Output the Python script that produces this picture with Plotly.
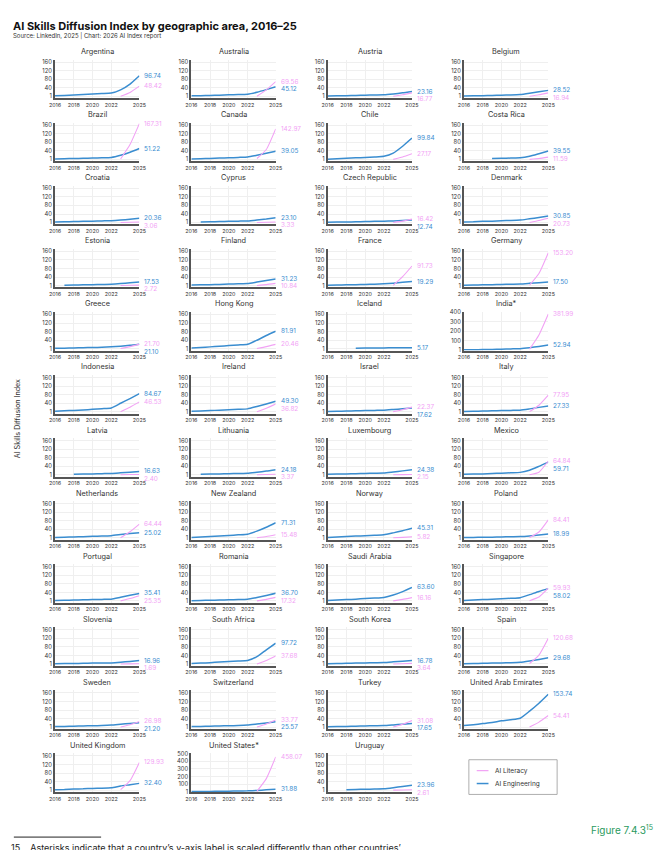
import plotly.graph_objects as go

# ---------------- data ----------------
years = [2016, 2017, 2018, 2019, 2020, 2021, 2022, 2023, 2024, 2025]
literacy_years = [2023, 2024, 2025]
x_tick_values = [2016, 2018, 2020, 2022, 2025]
x_tick_labels = ["2016", "2018", "2020", "2022", "2025"]
y_ticks_default = [1, 40, 80, 120, 160]
y_ticks_india = [1, 100, 200, 300, 400]
y_ticks_us = [1, 100, 200, 300, 400, 500]

countries = [
    "Argentina", "Australia", "Austria", "Belgium",
    "Brazil", "Canada", "Chile", "Costa Rica",
    "Croatia", "Cyprus", "Czech Republic", "Denmark",
    "Estonia", "Finland", "France", "Germany",
    "Greece", "Hong Kong", "Iceland", "India*",
    "Indonesia", "Ireland", "Israel", "Italy",
    "Latvia", "Lithuania", "Luxembourg", "Mexico",
    "Netherlands", "New Zealand", "Norway", "Poland",
    "Portugal", "Romania", "Saudi Arabia", "Singapore",
    "Slovenia", "South Africa", "South Korea", "Spain",
    "Sweden", "Switzerland", "Turkey", "United Arab Emirates",
    "United Kingdom", "United States*", "Uruguay",
]

N = None
ai_engineering = [
    [3, 5, 7, 9, 12, 14, 16, 31, 58, 96.74],        # Argentina
    [3, 4, 5, 6, 8, 9, 11, 20, 32, 45.12],          # Australia
    [2, 3, 4, 5, 6, 7, 8, 12, 17, 23.16],           # Austria
    [2, 3, 4, 5, 6, 7, 9, 15, 22, 28.52],           # Belgium
    [3, 4, 5, 6, 7, 8, 10, 20, 34, 51.22],          # Brazil
    [3, 4, 5, 7, 8, 10, 12, 20, 29, 39.05],         # Canada
    [2, 4, 6, 8, 10, 12, 15, 30, 62, 99.84],        # Chile
    [N, N, N, 5, 6, 7, 8, 15, 27, 39.55],           # Costa Rica
    [3, 4, 5, 6, 7, 8, 9, 12, 16, 20.36],           # Croatia
    [N, 3, 4, 5, 6, 7, 8, 12, 17, 23.10],           # Cyprus
    [2, 3, 3, 4, 5, 6, 7, 8, 10, 12.74],            # Czech Republic
    [3, 4, 6, 7, 9, 10, 12, 18, 24, 30.85],         # Denmark
    [N, 2, 3, 4, 5, 6, 7, 10, 14, 17.53],           # Estonia
    [3, 4, 5, 6, 8, 9, 10, 17, 24, 31.23],          # Finland
    [2, 3, 4, 5, 6, 7, 9, 12, 16, 19.29],           # France
    [2, 3, 4, 5, 6, 7, 8, 11, 14, 17.50],           # Germany
    [2, 3, 4, 5, 6, 7, 9, 12, 16, 21.10],           # Greece
    [4, 6, 9, 12, 15, 18, 21, 40, 62, 81.91],       # Hong Kong
    [N, N, N, 3, 3.5, 4, 4.3, 4.6, 4.9, 5.17],      # Iceland
    [2, 3, 5, 7, 9, 12, 15, 25, 38, 52.94],         # India
    [3, 5, 7, 9, 12, 15, 18, 40, 62, 84.67],        # Indonesia
    [3, 4, 6, 8, 10, 12, 14, 25, 37, 49.30],        # Ireland
    [2, 3, 4, 5, 6, 7, 8, 11, 14, 17.62],           # Israel
    [2, 3, 4, 5, 6, 7, 8, 14, 21, 27.33],           # Italy
    [N, N, 3, 4, 5, 6, 7, 10, 13, 16.63],           # Latvia
    [N, 3, 4, 5, 6, 7, 8, 13, 18, 24.18],           # Lithuania
    [3, 4, 5, 6, 7, 8, 9, 14, 19, 24.38],           # Luxembourg
    [3, 4, 5, 7, 8, 10, 12, 22, 40, 59.71],         # Mexico
    [3, 4, 5, 6, 8, 9, 11, 16, 21, 25.02],          # Netherlands
    [3, 5, 7, 10, 12, 15, 18, 32, 50, 71.31],       # New Zealand
    [3, 5, 7, 9, 11, 13, 15, 24, 34, 45.31],        # Norway
    [2, 3, 4, 4, 5, 6, 7, 10, 14, 18.99],           # Poland
    [3, 4, 5, 6, 7, 8, 9, 18, 27, 35.41],           # Portugal
    [2, 3, 4, 5, 6, 7, 9, 17, 26, 36.70],           # Romania
    [3, 5, 7, 9, 12, 14, 17, 28, 44, 63.60],        # Saudi Arabia
    [3, 5, 7, 9, 11, 13, 16, 30, 45, 58.02],        # Singapore
    [2, 3, 3, 4, 5, 5, 6, 9, 13, 16.96],            # Slovenia
    [3, 5, 7, 10, 13, 15, 17, 35, 67, 97.72],       # South Africa
    [2, 3, 4, 5, 6, 7, 8, 11, 14, 16.78],           # South Korea
    [2, 3, 4, 5, 6, 7, 9, 15, 22, 29.68],           # Spain
    [3, 4, 5, 6, 7, 8, 10, 14, 18, 21.20],          # Sweden
    [3, 4, 5, 6, 7, 8, 10, 15, 20, 25.57],          # Switzerland
    [2, 3, 4, 5, 6, 7, 8, 11, 14, 17.65],           # Turkey
    [8, 12, 17, 22, 30, 35, 42, 75, 112, 153.74],   # United Arab Emirates
    [3, 4, 6, 7, 9, 10, 12, 20, 26, 32.40],         # United Kingdom
    [2, 3, 4, 6, 7, 9, 11, 17, 24, 31.88],          # United States
    [N, N, 3, 4, 5, 6, 7, 12, 18, 23.96],           # Uruguay
]

ai_literacy = [
    [1, 19, 48.42], [1, 31, 69.56], [1, 8, 16.77], [1, 8, 16.94],
    [3, 70, 167.31], [5, 47, 142.97], [1, 12, 27.17], [1, 5, 11.59],
    [1, 2, 3.06], [1, 2, 3.33], [1, 7, 16.42], [1, 10, 20.73],
    [1, 2, 2.72], [1, 5, 10.84], [2, 42, 91.73], [3, 57, 153.20],
    [1, 10, 21.70], [1, 10, 20.46], None, [10, 160, 381.99],
    [1, 22, 46.53], [1, 17, 36.82], [1, 10, 22.37], [1, 31, 77.95],
    [1, 1.8, 2.40], [1, 2, 3.37], [1, 1.6, 2.15], [1, 13, 64.84],
    [1, 29, 64.44], [1, 7, 15.48], [1, 3, 5.82], [2, 28, 84.41],
    [1, 12, 25.35], [1, 8, 17.32], [1, 8, 16.16], [2, 19, 59.93],
    [1, 1.3, 1.69], [1, 17, 37.68], [1, 2, 3.64], [3, 42, 120.68],
    [1, 12, 26.98], [1, 15, 33.77], [1, 14, 31.08], [1, 24, 54.41],
    [3, 45, 129.93], [5, 172, 458.07], [1, 1.8, 2.61],
]

# ---------------- style / layout ----------------
W, H = 672, 850
BLUE = "#3a8dd0"
PINK = "#f2a2f5"
FONT = "Inter, Lato, sans-serif"
COL_LEFT = [50, 189, 328, 467]
PANEL_W = 86
PANEL_H = 39
ROW_PITCH = 63.6
MIN_LABEL_GAP = 7.5


def fx(px):
    return px / W


def fy(py):
    return 1 - py / H


fig = go.Figure()
annotations = []
layout_axes = {}

for i, name in enumerate(countries):
    r, c = divmod(i, 4)
    k = "" if i == 0 else str(i + 1)
    xa, ya = "x" + k, "y" + k
    left = COL_LEFT[c]
    top = 56 + ROW_PITCH * r
    bottom = top + PANEL_H

    if name == "India*":
        yrange, yticks = [-5, 405], y_ticks_india
    elif name == "United States*":
        yrange, yticks = [-5, 505], y_ticks_us
    else:
        yrange, yticks = [-8, 172], y_ticks_default

    fig.add_trace(go.Scatter(
        x=years, y=ai_engineering[i], mode="lines", xaxis=xa, yaxis=ya,
        line=dict(color=BLUE, width=1.5, shape="spline", smoothing=0.5),
        connectgaps=False, showlegend=False, hoverinfo="skip"))
    lit = ai_literacy[i]
    if lit is not None:
        fig.add_trace(go.Scatter(
            x=literacy_years, y=lit, mode="lines", xaxis=xa, yaxis=ya,
            line=dict(color=PINK, width=1.1, shape="spline", smoothing=0.5),
            showlegend=False, hoverinfo="skip"))

    axis_common = dict(
        showgrid=True, gridcolor="#efefef", gridwidth=0.6,
        showline=True, linecolor="#555", linewidth=2, ticks="",
        zeroline=False, fixedrange=True)
    layout_axes["xaxis" + k] = dict(
        domain=[fx(left), fx(left + PANEL_W)], anchor=ya, range=[2016, 2025],
        tickvals=x_tick_values, ticktext=x_tick_labels,
        tickfont=dict(size=5.4, color="#333", family=FONT), **axis_common)
    layout_axes["yaxis" + k] = dict(
        domain=[fy(bottom), fy(top)], anchor=xa, range=yrange,
        tickvals=yticks, ticktext=[str(t) for t in yticks],
        tickfont=dict(size=5.8, color="#333", family=FONT), **axis_common)

    # panel title
    annotations.append(dict(
        text=name, x=fx(left + PANEL_W / 2), y=fy(48 + ROW_PITCH * r),
        xref="paper", yref="paper", xanchor="center", yanchor="middle",
        showarrow=False, font=dict(size=7.3, color="#333", family=FONT)))

    # end labels (dodge the lower label downward when they collide)
    labels = [(ai_engineering[i][-1], BLUE)]
    if lit is not None:
        labels.append((lit[-1], PINK))
    labels.sort(key=lambda t: -t[0])
    ppu = PANEL_H / (yrange[1] - yrange[0])
    gap = (labels[0][0] - labels[-1][0]) * ppu if len(labels) == 2 else 99
    for j, (val, col) in enumerate(labels):
        shift = 0
        if j == 1 and gap < MIN_LABEL_GAP:
            shift = -(MIN_LABEL_GAP - gap)
        annotations.append(dict(
            text=f"{val:.2f}", x=2025, y=val, xref=xa, yref=ya,
            xanchor="left", yanchor="middle", xshift=3, yshift=shift,
            showarrow=False, font=dict(size=6.4, color=col, family=FONT)))

# titles
annotations += [
    dict(text="<b>AI Skills Diffusion Index by geographic area, 2016–25</b>",
         x=fx(5), y=fy(22), xref="paper", yref="paper", xanchor="left",
         yanchor="middle", showarrow=False,
         font=dict(size=11, color="#111", family=FONT)),
    dict(text="Source: LinkedIn, 2025 | Chart: 2026 AI Index report",
         x=fx(5), y=fy(32), xref="paper", yref="paper", xanchor="left",
         yanchor="middle", showarrow=False,
         font=dict(size=6, color="#333", family=FONT)),
    dict(text="AI Skills Diffusion Index", x=fx(12), y=fy(418),
         xref="paper", yref="paper", xanchor="center", yanchor="middle",
         textangle=-90, showarrow=False,
         font=dict(size=7.2, color="#333", family=FONT)),
    dict(text="AI Literacy", x=fx(497), y=fy(773), xref="paper", yref="paper",
         xanchor="left", yanchor="middle", showarrow=False,
         font=dict(size=6.5, color="#333", family=FONT)),
    dict(text="AI Engineering", x=fx(497), y=fy(786), xref="paper",
         yref="paper", xanchor="left", yanchor="middle", showarrow=False,
         font=dict(size=6.5, color="#333", family=FONT)),
    dict(text="Figure 7.4.3<sup>15</sup>", x=fx(662), y=fy(832),
         xref="paper", yref="paper", xanchor="right", yanchor="middle",
         showarrow=False, font=dict(size=10, color="#2a9a5e", family=FONT)),
    dict(text="15    Asterisks indicate that a country\u2019s y-axis label is scaled differently than other countries\u2019",
         x=fx(3), y=fy(843), xref="paper", yref="paper", xanchor="left",
         yanchor="top", showarrow=False,
         font=dict(size=9, color="#222", family=FONT)),
]

shapes = [
    dict(type="rect", xref="paper", yref="paper", x0=fx(472), x1=fx(562),
         y0=fy(762), y1=fy(797), line=dict(color="#999", width=0.8)),
    dict(type="line", xref="paper", yref="paper", x0=fx(480), x1=fx(492),
         y0=fy(773), y1=fy(773), line=dict(color=PINK, width=1.2)),
    dict(type="line", xref="paper", yref="paper", x0=fx(480), x1=fx(492),
         y0=fy(786), y1=fy(786), line=dict(color=BLUE, width=1.5)),
    dict(type="line", xref="paper", yref="paper", x0=fx(8), x1=fx(97),
         y0=fy(840), y1=fy(840), line=dict(color="#222", width=1)),
]

fig.update_layout(
    width=W, height=H, margin=dict(l=0, r=0, t=0, b=0),
    paper_bgcolor="white", plot_bgcolor="white",
    font=dict(family=FONT), showlegend=False,
    annotations=annotations, shapes=shapes, **layout_axes)

fig.write_html("out.html")
